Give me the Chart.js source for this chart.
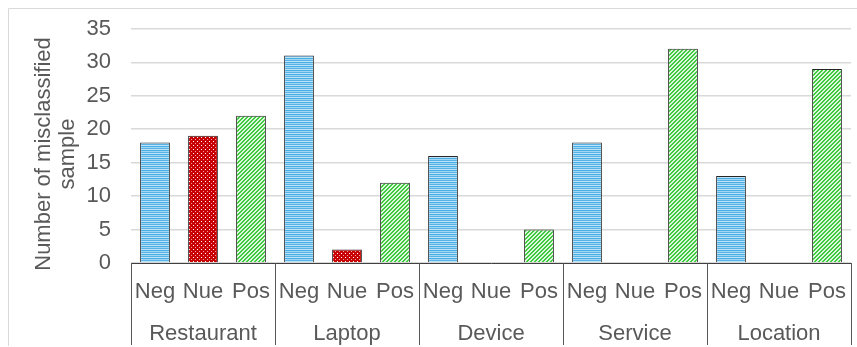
<!DOCTYPE html>
<html>
<head>
<meta charset="utf-8">
<script src="https://cdn.jsdelivr.net/npm/chart.js@4.4.1/dist/chart.umd.min.js"></script>
<style>
  html, body { margin: 0; padding: 0; background: #fff; }
  #wrap { position: relative; width: 857px; height: 347px; }
</style>
</head>
<body>
<div id="wrap"><canvas id="chart"></canvas></div>
<script>
// Data
const categories = ["Restaurant", "Laptop", "Device", "Service", "Location"];
const sentiments = ["Neg", "Nue", "Pos"];
const negValues = [18, 31, 16, 18, 13];
const nueValues = [19, 2, 0, 0, 0];
const posValues = [22, 12, 5, 32, 29];
const yTicks = [0, 5, 10, 15, 20, 25, 30, 35];
const yTitle = ["Number of misclassified", "sample"];

const textColor = "#595959";
const font = "'Liberation Sans', Arial, sans-serif";

// Patterned fills like the Excel bars
function makePattern(w, h, draw) {
  const c = document.createElement("canvas");
  c.width = w;
  c.height = h;
  draw(c.getContext("2d"));
  return c.getContext("2d").createPattern(c, "repeat");
}

const bluePattern = makePattern(1, 4, (g) => {
  const rows = ["#55b3e7", "#bfe4f8", "#48ade4", "#a2d6f3"];
  rows.forEach((col, i) => { g.fillStyle = col; g.fillRect(0, i, 1, 1); });
});

const redPattern = makePattern(4, 4, (g) => {
  g.fillStyle = "#c80000"; g.fillRect(0, 0, 4, 4);
  g.fillStyle = "#ffffff"; g.fillRect(1, 1, 1, 1);
  g.fillStyle = "#f09a9a"; g.fillRect(3, 3, 1, 1);
});

const greenPattern = makePattern(4, 4, (g) => {
  g.fillStyle = "#daf7da"; g.fillRect(0, 0, 4, 4);
  g.fillStyle = "#42c942";
  for (let i = 0; i < 4; i++) {
    g.fillRect((3 - i + 4) % 4, i, 1, 1);
    g.fillRect((4 - i + 4) % 4, i, 1, 1);
  }
});

const patterns = [bluePattern, redPattern, greenPattern];

// Flatten into one bar per (category, sentiment)
const labels = [];
const values = [];
const fills = [];
categories.forEach((cat, i) => {
  [negValues[i], nueValues[i], posValues[i]].forEach((v, j) => {
    labels.push(sentiments[j]);
    values.push(v);
    fills.push(patterns[j]);
  });
});

// Category row, separators, y title and outer border
const extras = {
  id: "extras",
  afterDraw(chart) {
    const ctx = chart.ctx;
    const x = chart.scales.x;
    const area = chart.chartArea;
    const slot = x.getPixelForValue(1) - x.getPixelForValue(0);
    ctx.save();
    ctx.strokeStyle = "#595959";
    ctx.lineWidth = 1;
    for (let i = 0; i <= categories.length; i++) {
      const px = Math.round(x.getPixelForValue(i * 3) - slot / 2) + 0.5;
      ctx.beginPath();
      ctx.moveTo(px, area.bottom);
      ctx.lineTo(px, 345);
      ctx.stroke();
    }
    ctx.fillStyle = textColor;
    ctx.font = "22px " + font;
    ctx.textAlign = "center";
    ctx.textBaseline = "middle";
    categories.forEach((cat, i) => {
      ctx.fillText(cat, x.getPixelForValue(i * 3 + 1), 334);
    });

    // y axis title, two lines
    ctx.save();
    ctx.translate(44, 154);
    ctx.rotate(-Math.PI / 2);
    ctx.fillText(yTitle[0], 0, 0);
    ctx.fillText(yTitle[1], 0, 24);
    ctx.restore();

    // outer chart border (top and left visible)
    ctx.strokeStyle = "#d9d9d9";
    ctx.beginPath();
    ctx.moveTo(8.5, 346);
    ctx.lineTo(8.5, 8.5);
    ctx.lineTo(857, 8.5);
    ctx.stroke();
    ctx.restore();
  },
};

new Chart(document.getElementById("chart"), {
  type: "bar",
  data: {
    labels: labels,
    datasets: [
      {
        data: values,
        backgroundColor: fills,
        borderColor: "#262626",
        borderWidth: (c) => (c.raw === 0 ? 0 : 1),
        borderSkipped: "bottom",
        barPercentage: 0.62,
        categoryPercentage: 1,
      },
    ],
  },
  options: {
    responsive: true,
    maintainAspectRatio: false,
    animation: false,
    layout: { padding: { left: 0, right: 6, top: 0, bottom: 0 } },
    plugins: {
      legend: { display: false },
      tooltip: { enabled: false },
    },
    scales: {
      x: {
        grid: { display: false },
        border: { display: true, color: "#404040", width: 1 },
        ticks: {
          color: textColor,
          font: { family: font, size: 22 },
          padding: 8,
          maxRotation: 0,
          autoSkip: false,
        },
        afterFit: (s) => { s.height = 84; },
      },
      y: {
        min: 0,
        max: 35,
        afterBuildTicks: (s) => { s.ticks = yTicks.map((v) => ({ value: v })); },
        grid: { color: "#d9d9d9", lineWidth: 1.5, drawTicks: false },
        border: { display: false },
        ticks: {
          color: textColor,
          font: { family: font, size: 22, lineHeight: 0.8 },
          padding: 20,
        },
        afterFit: (s) => { s.width = 131; },
      },
    },
  },
  plugins: [extras],
});
</script>
</body>
</html>
